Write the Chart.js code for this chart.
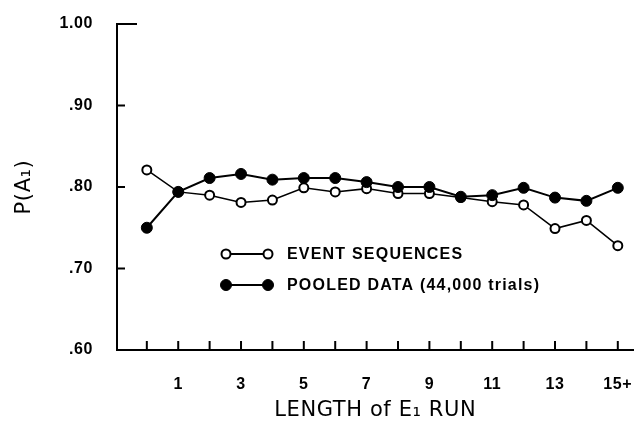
<!DOCTYPE html>
<html lang="en">
<head>
<meta charset="UTF-8">
<title>P(A1) by length of E1 run</title>
<script src="https://cdn.jsdelivr.net/npm/chart.js@4.4.1/dist/chart.umd.min.js"></script>
<style>
  html, body { margin: 0; padding: 0; background: #fff; }
  #wrap { width: 640px; height: 427px; }
</style>
</head>
<body>
<div id="wrap"><canvas id="chart" width="640" height="427"></canvas></div>
<script>
// run lengths 0..15 (15 = "15+")
const runLengths = [0, 1, 2, 3, 4, 5, 6, 7, 8, 9, 10, 11, 12, 13, 14, 15];
const eventSeq = [0.821, 0.794, 0.790, 0.781, 0.784, 0.799, 0.794, 0.798, 0.792, 0.792, 0.787, 0.782, 0.778, 0.749, 0.759, 0.728];
const pooled   = [0.750, 0.794, 0.811, 0.816, 0.809, 0.811, 0.811, 0.806, 0.800, 0.800, 0.788, 0.790, 0.799, 0.787, 0.783, 0.799];
const yTicks = [0.6, 0.7, 0.8, 0.9, 1.0];
const yLabels = ['.60', '.70', '.80', '.90', '1.00'];
const legendLabels = ['EVENT SEQUENCES', 'POOLED DATA (44,000 trials)'];

const FONT = 'DejaVu Sans';
const LABEL_FONT = 'Liberation Sans';

const toPoints = vals => runLengths.map((x, i) => ({ x: x, y: vals[i] }));

// ticks drawn inward from the axes, plus the in-plot legend
const paperPlugin = {
  id: 'paper',
  beforeDraw(chart) {
    chart.ctx.letterSpacing = '0.6px';
  },
  afterDraw(chart) {
    const ctx = chart.ctx;
    const xs = chart.scales.x, ys = chart.scales.y;
    ctx.save();
    ctx.strokeStyle = '#000';
    ctx.lineWidth = 2;
    ctx.beginPath();
    runLengths.forEach(v => {
      const px = xs.getPixelForValue(v);
      ctx.moveTo(px, ys.bottom);
      ctx.lineTo(px, ys.bottom - 9);
    });
    yTicks.forEach(v => {
      const py = ys.getPixelForValue(v);
      ctx.moveTo(xs.left, py);
      ctx.lineTo(xs.left + (v === 1.0 ? 20 : 8), py);
    });
    ctx.stroke();

    // legend
    const rows = [
      { ds: chart.data.datasets[1], y: 254 },
      { ds: chart.data.datasets[0], y: 285 }
    ];
    rows.forEach(r => {
      const x1 = 226, x2 = 268;
      ctx.beginPath();
      ctx.lineWidth = 2;
      ctx.moveTo(x1, r.y);
      ctx.lineTo(x2, r.y);
      ctx.stroke();
      [x1, x2].forEach(cx => {
        ctx.beginPath();
        ctx.arc(cx, r.y, r.ds.pointRadius, 0, Math.PI * 2);
        ctx.fillStyle = r.ds.pointBackgroundColor;
        ctx.fill();
        ctx.lineWidth = r.ds.pointBorderWidth;
        ctx.stroke();
      });
      ctx.fillStyle = '#000';
      ctx.font = 'bold 16px "' + LABEL_FONT + '"';
      ctx.letterSpacing = '1.2px';
      ctx.textBaseline = 'middle';
      ctx.fillText(r.ds.label, 287, r.y + 1);
    });
    ctx.restore();
  }
};

new Chart(document.getElementById('chart'), {
  type: 'line',
  data: {
    datasets: [{
      label: legendLabels[1],
      data: toPoints(pooled),
      borderColor: '#000',
      borderWidth: 2,
      pointRadius: 5.5,
      pointBackgroundColor: '#000',
      pointBorderColor: '#000',
      pointBorderWidth: 1,
      tension: 0
    }, {
      label: legendLabels[0],
      data: toPoints(eventSeq),
      borderColor: '#000',
      borderWidth: 1.5,
      pointRadius: 4.5,
      pointBackgroundColor: '#fff',
      pointBorderColor: '#000',
      pointBorderWidth: 2,
      tension: 0
    }]
  },
  options: {
    responsive: false,
    devicePixelRatio: 1,
    animation: false,
    layout: { padding: { left: 8, top: 24, right: 4, bottom: 4 } },
    plugins: { legend: { display: false }, tooltip: { enabled: false } },
    scales: {
      x: {
        type: 'linear',
        min: -0.95,
        max: 15.5,
        afterBuildTicks: s => { s.ticks = runLengths.map(v => ({ value: v })); },
        afterFit: s => { s.height = 73; },
        grid: { display: false, drawTicks: true, tickLength: 25 },
        border: { display: true, color: '#000', width: 2 },
        ticks: {
          padding: 0,
          autoSkip: false,
          maxRotation: 0,
          color: '#000',
          font: { family: LABEL_FONT, size: 16, weight: 'bold' },
          callback: v => v === 15 ? '15+' : (v % 2 === 1 ? String(v) : '')
        },
        title: {
          display: true,
          text: 'LENGTH of E\u2081 RUN',
          color: '#000',
          font: { family: FONT, size: 21 },
          padding: { top: 0, bottom: 0 }
        }
      },
      y: {
        min: 0.6,
        max: 1.0,
        afterBuildTicks: s => { s.ticks = yTicks.map(v => ({ value: v })); },
        afterFit: s => { s.width = 109; },
        grid: { display: false, drawTicks: true, tickLength: 24 },
        border: { display: true, color: '#000', width: 2 },
        ticks: {
          padding: 0,
          color: '#000',
          font: { family: LABEL_FONT, size: 16, weight: 'bold' },
          callback: v => yLabels[yTicks.findIndex(t => Math.abs(t - v) < 1e-6)]
        },
        title: {
          display: true,
          text: 'P(A\u2081)',
          color: '#000',
          font: { family: FONT, size: 21 },
          padding: { top: 4, bottom: 0 }
        }
      }
    }
  },
  plugins: [paperPlugin]
});
</script>
</body>
</html>
